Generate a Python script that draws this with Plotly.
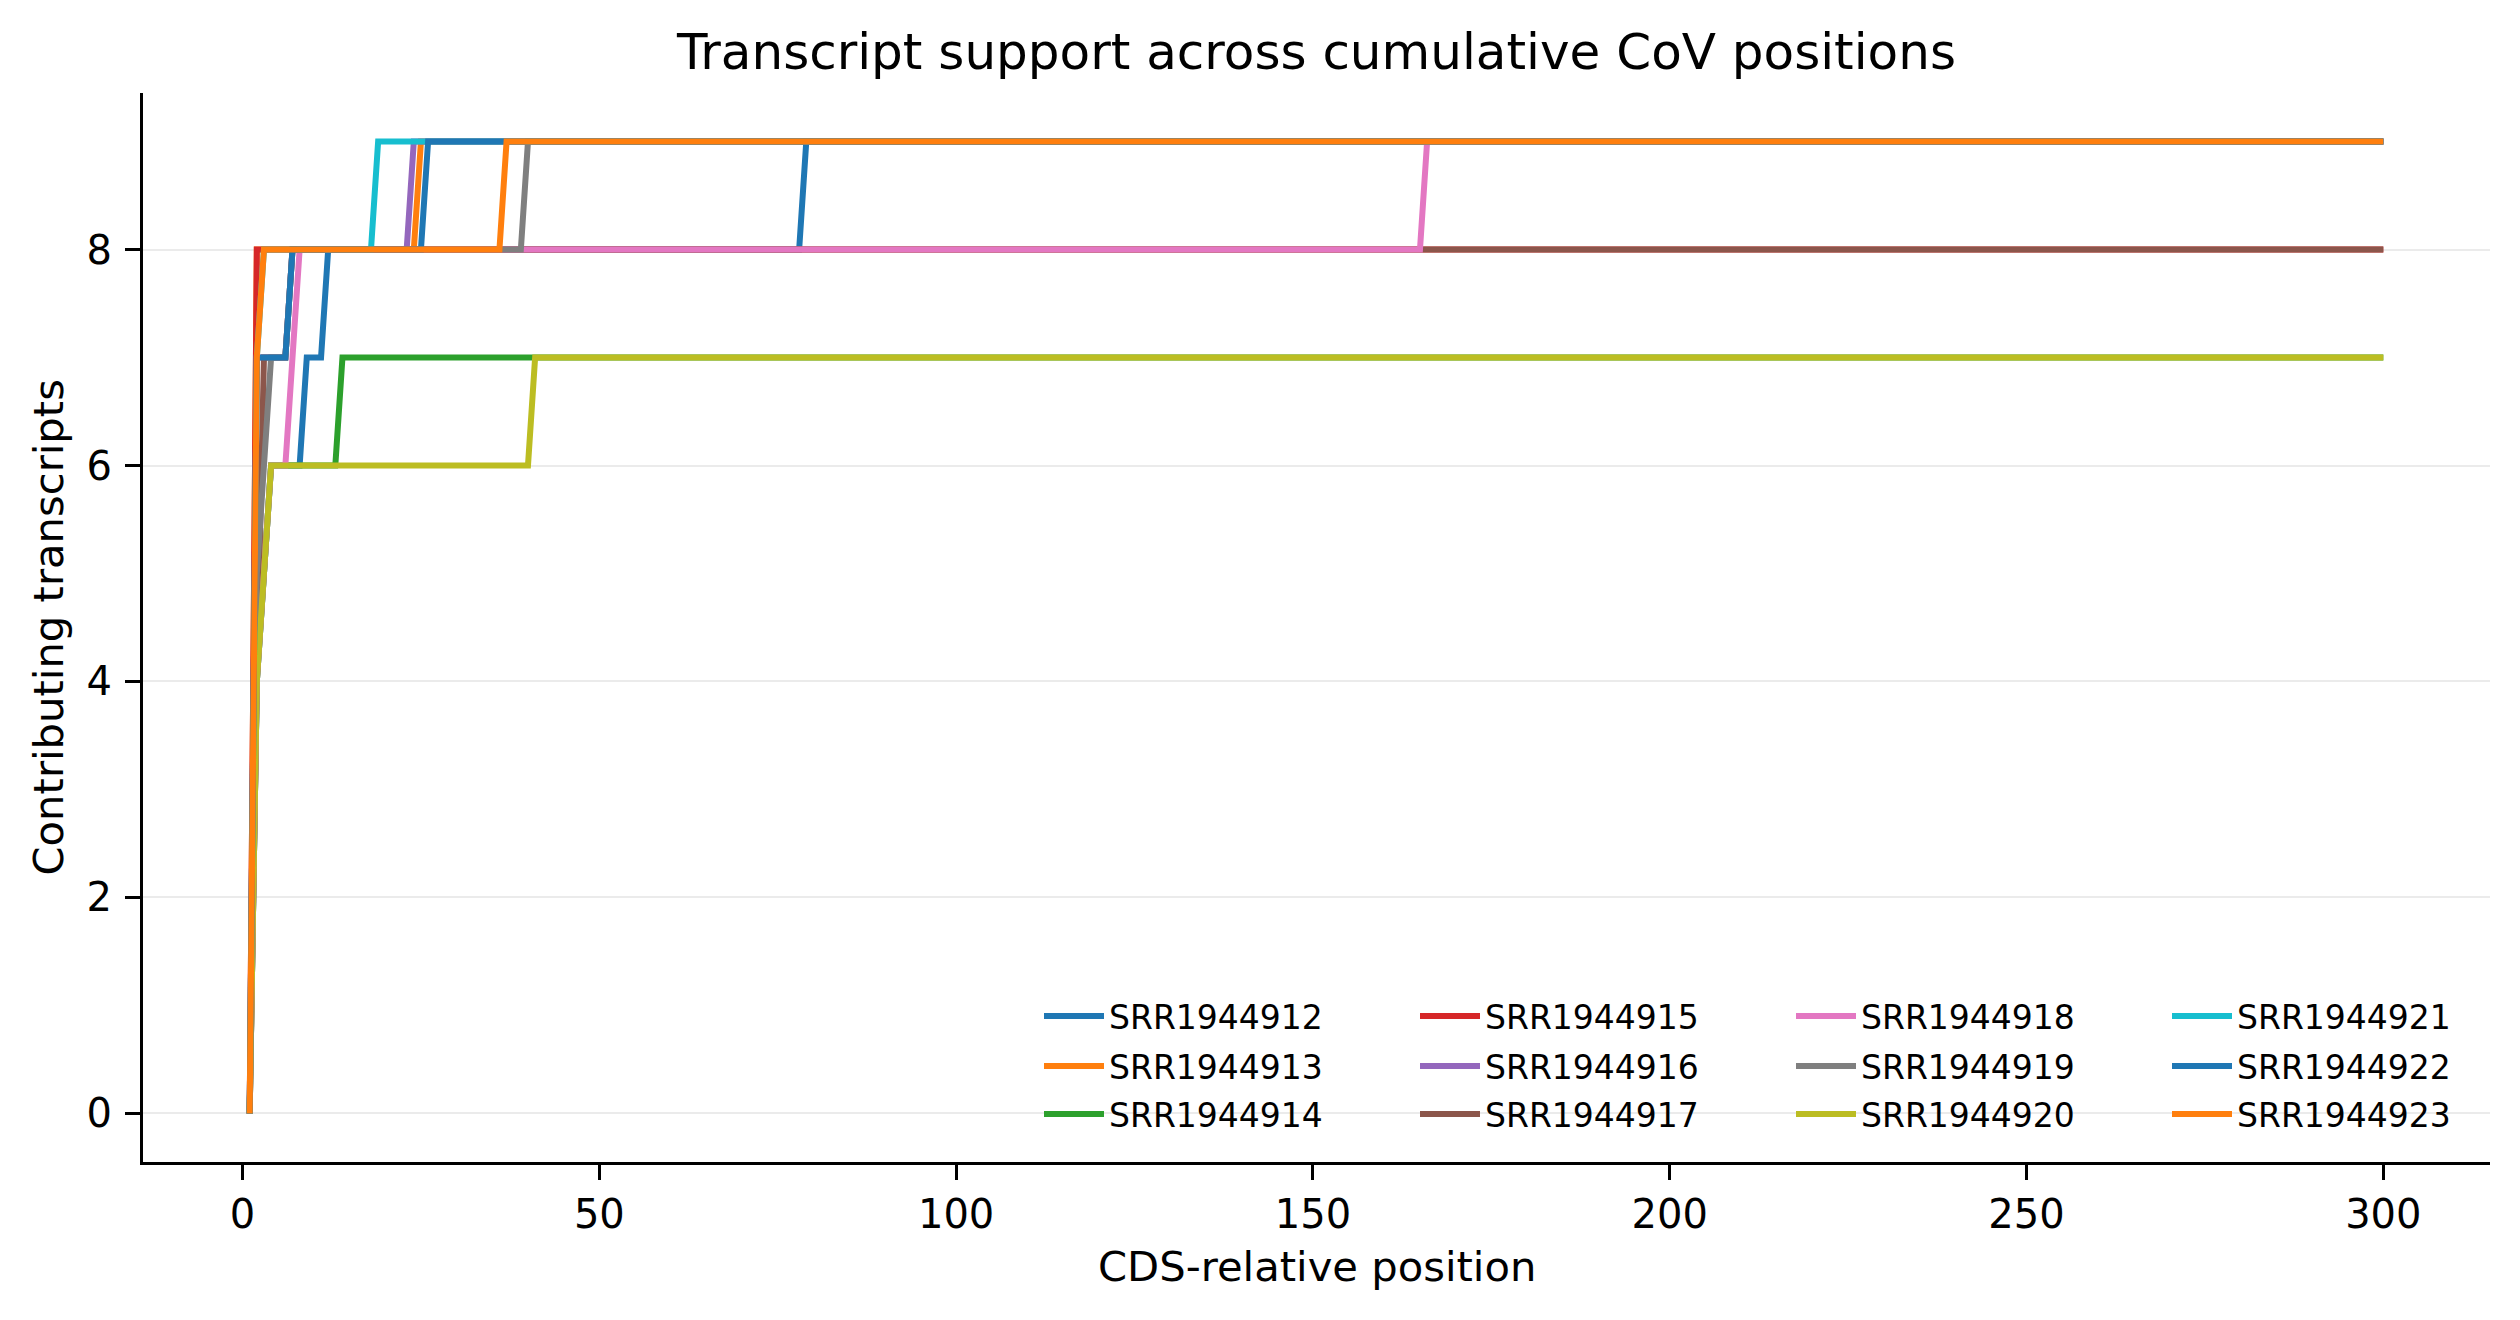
import plotly.graph_objects as go

# ---- data: kink points (position, contributing transcripts) per sample ----
samples = ["SRR1944912", "SRR1944913", "SRR1944914", "SRR1944915",
           "SRR1944916", "SRR1944917", "SRR1944918", "SRR1944919",
           "SRR1944920", "SRR1944921", "SRR1944922", "SRR1944923"]

pos_912 = [1, 2, 3, 4, 8, 9, 11, 12, 78, 79, 300]
val_912 = [0, 4, 5, 6, 6, 7, 7, 8, 8, 9, 9]
pos_913 = [1, 2, 24, 25, 300]
val_913 = [0, 8, 8, 9, 9]
pos_914 = [1, 2, 3, 4, 13, 14, 300]
val_914 = [0, 4, 5, 6, 6, 7, 7]
pos_915 = [1, 2, 300]
val_915 = [0, 8, 8]
pos_916 = [1, 2, 6, 7, 23, 24, 300]
val_916 = [0, 7, 7, 8, 8, 9, 9]
pos_917 = [1, 2, 3, 6, 7, 300]
val_917 = [0, 4, 7, 7, 8, 8]
pos_918 = [1, 2, 3, 4, 6, 8, 165, 166, 300]
val_918 = [0, 4, 5, 6, 6, 8, 8, 9, 9]
pos_919 = [1, 2, 4, 6, 7, 39, 40, 300]
val_919 = [0, 5, 7, 7, 8, 8, 9, 9]
pos_920 = [1, 2, 3, 4, 40, 41, 300]
val_920 = [0, 4, 5, 6, 6, 7, 7]
pos_921 = [1, 2, 3, 18, 19, 300]
val_921 = [0, 7, 8, 8, 9, 9]
pos_922 = [1, 2, 6, 7, 25, 26, 300]
val_922 = [0, 7, 7, 8, 8, 9, 9]
pos_923 = [1, 2, 3, 36, 37, 300]
val_923 = [0, 7, 8, 8, 9, 9]

x_ticks = [0, 50, 100, 150, 200, 250, 300]
y_ticks = [0, 2, 4, 6, 8]

positions = [pos_912, pos_913, pos_914, pos_915, pos_916, pos_917,
             pos_918, pos_919, pos_920, pos_921, pos_922, pos_923]
values = [val_912, val_913, val_914, val_915, val_916, val_917,
          val_918, val_919, val_920, val_921, val_922, val_923]

colors = ["#1f77b4", "#ff7f0e", "#2ca02c", "#d62728", "#9467bd", "#8c564b",
          "#e377c2", "#7f7f7f", "#bcbd22", "#17becf", "#1f77b4", "#ff7f0e"]

OFF = 8  # default page body margin
W, H = 2520 - 2 * OFF, 1320 - 2 * OFF
L, R, T, B = 143 - OFF, 2490 - OFF, 93 - OFF, 1162 - OFF
FONT = "DejaVu Sans"

fig = go.Figure()
legend_ids = ["legend"] + [f"legend{i}" for i in range(2, 13)]
for i, (name, xs, ys) in enumerate(zip(samples, positions, values)):
    fig.add_trace(go.Scatter(
        x=xs, y=ys, mode="lines", name=name,
        line=dict(color=colors[i], width=6),
        legend=legend_ids[i],
    ))

# legend layout: 4 columns x 3 rows, column-major
col_line_start = [1019, 1395, 1771, 2147]
row_center = [1016, 1066, 1114]
legend_layouts = {}
for i in range(12):
    c, r = i // 3, i % 3
    px = col_line_start[c] - OFF + 20
    py = row_center[r] - OFF
    legend_layouts[legend_ids[i]] = dict(
        x=(px - L) / (R - L), y=(B - py) / (B - T),
        xanchor="left", yanchor="middle",
        bgcolor="rgba(0,0,0,0)", borderwidth=0,
        font=dict(family=FONT, size=33, color="black"),
        itemwidth=60,
    )

fig.update_layout(
    width=W, height=H,
    margin=dict(l=L, r=W - R, t=T, b=H - B),
    plot_bgcolor="white", paper_bgcolor="white",
    font=dict(family=FONT, color="black"),
    title=dict(text="Transcript support across cumulative CoV positions",
               x=(L + R) / 2 / W, xanchor="center",
               y=1 - (51 - OFF) / H, yanchor="middle", yref="container",
               font=dict(family=FONT, size=50, color="black")),
    showlegend=True,
    **legend_layouts,
)

fig.update_xaxes(
    range=[-13.95, 314.95], tickvals=x_ticks,
    showgrid=False, zeroline=False,
    showline=True, linecolor="black", linewidth=3,
    ticks="outside", ticklen=15, tickwidth=3, tickcolor="black",
    tickfont=dict(family=FONT, size=40, color="black"),
    ticklabelstandoff=0,
)
fig.update_yaxes(
    range=[-0.45, 9.45], tickvals=y_ticks,
    showgrid=True, gridcolor="#ebebeb", gridwidth=1.5,
    zeroline=False,
    showline=True, linecolor="black", linewidth=3,
    ticks="outside", ticklen=15, tickwidth=3, tickcolor="black",
    tickfont=dict(family=FONT, size=40, color="black"),
    ticklabelstandoff=5,
)

fig.add_annotation(text="CDS-relative position", xref="paper", yref="paper",
                   x=0.5, y=-(1266 - 1162) / (B - T), xanchor="center", yanchor="middle",
                   showarrow=False, font=dict(family=FONT, size=41.7, color="black"))
fig.add_annotation(text="Contributing transcripts", xref="paper", yref="paper",
                   x=(48 - 143) / (R - L), y=0.5, xanchor="center", yanchor="middle",
                   textangle=-90, showarrow=False,
                   font=dict(family=FONT, size=41.7, color="black"))

fig.write_html("out.html")
